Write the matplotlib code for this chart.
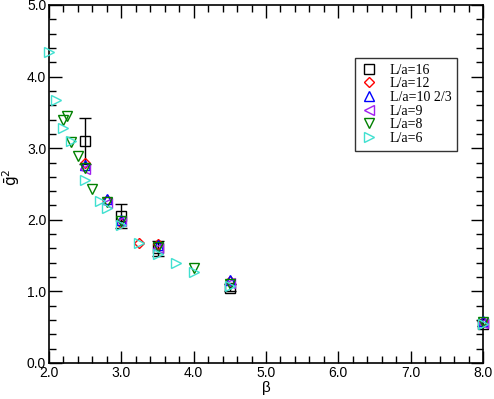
import numpy as np
import matplotlib
matplotlib.use('Agg')
import matplotlib.pyplot as plt
from matplotlib.ticker import MultipleLocator, FormatStrFormatter

# L/a = 16 (with visible error bars)
beta_16 = [2.5, 3.0, 3.5, 4.5, 8.0]
g2_16 = [3.10, 2.05, 1.60, 1.05, 0.55]
err_16 = [0.32, 0.17, 0.10, 0.05, 0.03]

# L/a = 12
beta_12 = [2.5, 2.8, 3.0, 3.25, 3.5, 4.5, 8.0]
g2_12 = [2.79, 2.27, 1.96, 1.67, 1.66, 1.14, 0.57]

# L/a = 10 2/3
beta_10 = [2.5, 2.8, 3.0, 3.5, 4.5, 8.0]
g2_10 = [2.76, 2.29, 2.00, 1.65, 1.16, 0.58]

# L/a = 9
beta_9 = [2.5, 2.8, 3.0, 3.5, 4.5, 8.0]
g2_9 = [2.71, 2.24, 1.98, 1.61, 1.12, 0.56]

# L/a = 8
beta_8 = [2.2, 2.25, 2.3, 2.4, 2.5, 2.6, 2.8, 3.0, 3.5, 4.0, 4.5, 8.0]
g2_8 = [3.40, 3.45, 3.08, 2.89, 2.72, 2.43, 2.25, 1.98, 1.62, 1.32, 1.10, 0.57]

# L/a = 6
beta_6 = [2.0, 2.1, 2.2, 2.3, 2.5, 2.7, 2.8, 3.0, 3.25, 3.5, 3.75, 4.0, 4.5, 8.0]
g2_6 = [4.34, 3.67, 3.28, 3.10, 2.55, 2.26, 2.16, 1.93, 1.67, 1.52, 1.39, 1.27, 1.08, 0.55]

series = [
    (beta_16, g2_16, err_16, 's', 'black', 'L/a=16'),
    (beta_12, g2_12, None, 'D', 'red', 'L/a=12'),
    (beta_10, g2_10, None, '^', 'blue', 'L/a=10 2/3'),
    (beta_9, g2_9, None, '<', '#a020f0', 'L/a=9'),
    (beta_8, g2_8, None, 'v', 'green', 'L/a=8'),
    (beta_6, g2_6, None, '>', '#40e0d0', 'L/a=6'),
]

plt.rcParams['font.family'] = ['Liberation Sans', 'DejaVu Sans']

fig = plt.figure(figsize=(4.94, 3.99), dpi=100)
ax = fig.add_axes([49/494, 1 - 363/399, 434/494, 358/399])

for x, y, err, mk, col, lab in series:
    ms = 5.5 if mk == 'D' else 7
    if err is not None:
        ax.errorbar(x, y, yerr=err, fmt='none', ecolor=col, elinewidth=1,
                    capsize=4, capthick=1, zorder=2)
    ax.plot(x, y, mk, color=col, mfc='none', mec=col, ms=ms, mew=1,
            label=lab, zorder=3, clip_on=False)

ax.set_xlim(2.0, 8.0)
ax.set_ylim(0.0, 5.0)
ax.xaxis.set_major_locator(MultipleLocator(1.0))
ax.xaxis.set_minor_locator(MultipleLocator(0.2))
ax.yaxis.set_major_locator(MultipleLocator(1.0))
ax.yaxis.set_minor_locator(MultipleLocator(0.2))
ax.xaxis.set_major_formatter(FormatStrFormatter('%.1f'))
ax.yaxis.set_major_formatter(FormatStrFormatter('%.1f'))
ax.tick_params(which='both', direction='in', top=True, right=True,
               labelsize=10, width=1)
ax.tick_params(which='major', length=9, pad=2)
ax.tick_params(which='minor', length=5)
for s in ax.spines.values():
    s.set_linewidth(1.2)

ax.set_xlabel('β', fontsize=11, labelpad=1)
ax.set_ylabel(r'$\bar{\mathrm{g}}^2$', fontsize=11)
ax.yaxis.set_label_coords(-0.062, 0.52)

leg = ax.legend(loc='upper left', bbox_to_anchor=(306/434, 1 - 53/358),
                borderaxespad=0, frameon=True, fancybox=False,
                edgecolor='black',
                prop={'family': 'Liberation Serif', 'size': 10},
                handlelength=1.2, handletextpad=0.9, labelspacing=0.05,
                borderpad=0.4, numpoints=1)
leg.get_frame().set_linewidth(1)

fig.savefig('out.png', dpi=100)
